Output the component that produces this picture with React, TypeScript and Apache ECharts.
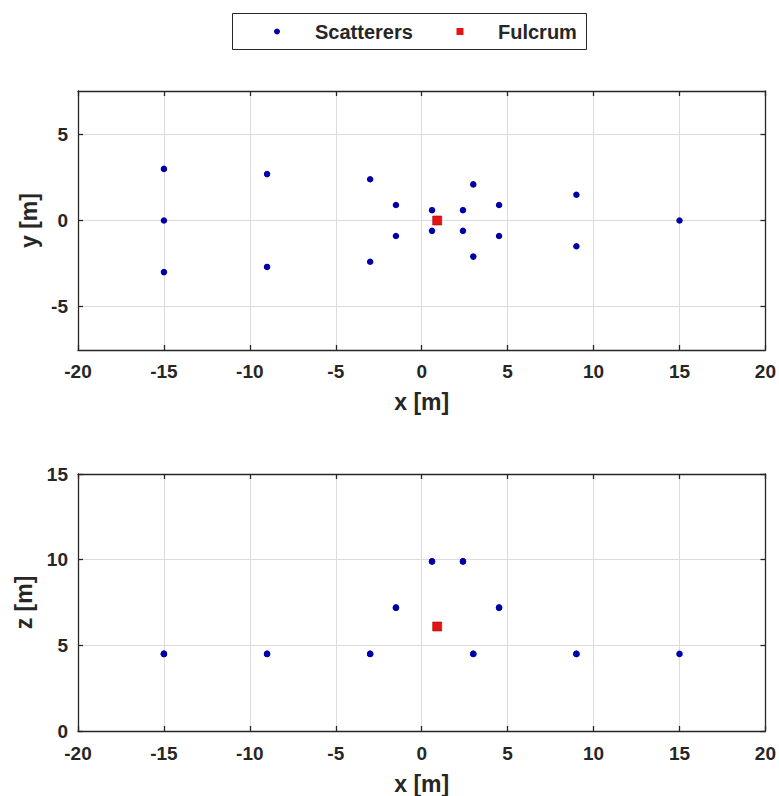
import React, { useEffect, useRef } from "react";
import * as echarts from "echarts";

// Scatterer positions [m]
const scatterX = [-15, -15, -15, -9, -9, -3, -3, -1.5, -1.5, 0.6, 0.6, 2.4, 2.4, 3, 3, 4.5, 4.5, 9, 9, 15];
const scatterY = [3, 0, -3, 2.7, -2.7, 2.4, -2.4, 0.9, -0.9, 0.6, -0.6, 0.6, -0.6, 2.1, -2.1, 0.9, -0.9, 1.5, -1.5, 0];
const scatterZ = [4.5, 4.5, 4.5, 4.5, 4.5, 4.5, 4.5, 7.2, 7.2, 9.9, 9.9, 9.9, 9.9, 4.5, 4.5, 7.2, 7.2, 4.5, 4.5, 4.5];

// Fulcrum position [m]
const fulcrumX = [0.9];
const fulcrumY = [0];
const fulcrumZ = [6.1];

// Axis ticks
const yTicks = [-5, 0, 5];
const zTicks = [0, 5, 10, 15];

// Legend entries
const legendNames = ["Scatterers", "Fulcrum"];

const FONT = "'Liberation Sans', Arial, Helvetica, sans-serif";
const TXT = "#262626";
const AX = "#262626";
const GRIDC = "#dcdcdc";
const BLUE = "#0000a8";
const RED = "#e51414";

export default function App() {
  const ref = useRef<HTMLDivElement>(null);

  useEffect(() => {
    if (!ref.current) return;
    const chart = echarts.init(ref.current, undefined, { renderer: "svg" });

    const xy = scatterX.map((x, i) => [x, scatterY[i]]);
    const xz = scatterX.map((x, i) => [x, scatterZ[i]]);
    const fxy = fulcrumX.map((x, i) => [x, fulcrumY[i]]);
    const fxz = fulcrumX.map((x, i) => [x, fulcrumZ[i]]);

    const tickLabel = { fontFamily: FONT, fontWeight: "bold" as const, fontSize: 19, color: TXT };
    const nameStyle = { fontFamily: FONT, fontWeight: "bold" as const, fontSize: 23, color: TXT };
    const lineSt = { color: AX, width: 1.3 };

    const mainX = (gridIndex: number, gap: number, margin: number) => ({
      type: "value" as const,
      gridIndex,
      min: -20,
      max: 20,
      interval: 5,
      name: "x [m]",
      nameLocation: "middle" as const,
      nameGap: gap,
      nameTextStyle: nameStyle,
      axisLine: { show: true, onZero: false, lineStyle: lineSt },
      axisTick: { show: true, inside: true, length: 5, lineStyle: lineSt },
      axisLabel: { ...tickLabel, margin },
      splitLine: { show: true, lineStyle: { color: GRIDC, width: 1 } },
    });
    const mirrorX = (gridIndex: number) => ({
      type: "value" as const,
      gridIndex,
      position: "top" as const,
      min: -20,
      max: 20,
      interval: 5,
      axisLine: { show: true, onZero: false, lineStyle: lineSt },
      axisTick: { show: true, inside: true, length: 5, lineStyle: lineSt },
      axisLabel: { show: false },
      splitLine: { show: false },
    });

    const legendY = 31.5;
    const legendText = { fontFamily: FONT, fontWeight: "bold", fontSize: 20, fill: TXT };

    const option: any = {
      animation: false,
      backgroundColor: "#ffffff",
      graphic: [
        {
          type: "rect",
          shape: { x: 232.5, y: 13.5, width: 354, height: 36 },
          style: { fill: "#ffffff", stroke: "#262626", lineWidth: 1 },
          z: 10,
        },
        {
          type: "circle",
          shape: { cx: 277, cy: legendY, r: 3 },
          style: { fill: BLUE },
          z: 11,
        },
        {
          type: "text",
          x: 315,
          y: legendY,
          style: { ...legendText, text: legendNames[0], verticalAlign: "middle", align: "left" },
          z: 11,
        },
        {
          type: "rect",
          shape: { x: 456.5, y: legendY - 3.5, width: 7, height: 7 },
          style: { fill: RED },
          z: 11,
        },
        {
          type: "text",
          x: 498,
          y: legendY,
          style: { ...legendText, text: legendNames[1], verticalAlign: "middle", align: "left" },
          z: 11,
        },
      ],
      grid: [
        { left: 78, top: 91, width: 688, height: 259, containLabel: false },
        { left: 78, top: 474, width: 688, height: 258, containLabel: false },
      ],
      xAxis: [mainX(0, 40, 12), mirrorX(0), mainX(1, 41, 13), mirrorX(1)],
      yAxis: [
        {
          type: "value",
          gridIndex: 0,
          min: -7.53,
          max: 7.53,
          name: "y [m]",
          nameLocation: "middle",
          nameGap: 35,
          nameTextStyle: nameStyle,
          axisLine: { show: true, onZero: false, lineStyle: lineSt },
          axisTick: { show: true, inside: true, length: 5, customValues: yTicks, lineStyle: lineSt },
          axisLabel: { ...tickLabel, margin: 10, customValues: yTicks },
          splitLine: { show: true, lineStyle: { color: GRIDC, width: 1 } },
        },
        {
          type: "value",
          gridIndex: 0,
          position: "right",
          min: -7.53,
          max: 7.53,
          axisLine: { show: true, onZero: false, lineStyle: lineSt },
          axisTick: { show: true, inside: true, length: 5, customValues: yTicks, lineStyle: lineSt },
          axisLabel: { show: false, customValues: yTicks },
          splitLine: { show: false },
        },
        {
          type: "value",
          gridIndex: 1,
          min: zTicks[0],
          max: zTicks[zTicks.length - 1],
          interval: 5,
          name: "z [m]",
          nameLocation: "middle",
          nameGap: 35,
          nameTextStyle: nameStyle,
          axisLine: { show: true, onZero: false, lineStyle: lineSt },
          axisTick: { show: true, inside: true, length: 5, lineStyle: lineSt },
          axisLabel: { ...tickLabel, margin: 10 },
          splitLine: { show: true, lineStyle: { color: GRIDC, width: 1 } },
        },
        {
          type: "value",
          gridIndex: 1,
          position: "right",
          min: zTicks[0],
          max: zTicks[zTicks.length - 1],
          interval: 5,
          axisLine: { show: true, onZero: false, lineStyle: lineSt },
          axisTick: { show: true, inside: true, length: 5, lineStyle: lineSt },
          axisLabel: { show: false },
          splitLine: { show: false },
        },
      ],
      series: [
        {
          name: legendNames[0],
          type: "scatter",
          xAxisIndex: 0,
          yAxisIndex: 0,
          symbol: "circle",
          symbolSize: 6.5,
          itemStyle: { color: BLUE, opacity: 1 },
          data: xy,
          z: 3,
        },
        {
          name: legendNames[1],
          type: "scatter",
          xAxisIndex: 0,
          yAxisIndex: 0,
          symbol: "rect",
          symbolSize: 9,
          itemStyle: { color: RED, opacity: 1, borderColor: "#b00000", borderWidth: 0.6 },
          data: fxy,
          z: 4,
        },
        {
          name: legendNames[0],
          type: "scatter",
          xAxisIndex: 2,
          yAxisIndex: 2,
          symbol: "circle",
          symbolSize: 6.5,
          itemStyle: { color: BLUE, opacity: 1 },
          data: xz,
          z: 3,
        },
        {
          name: legendNames[1],
          type: "scatter",
          xAxisIndex: 2,
          yAxisIndex: 2,
          symbol: "rect",
          symbolSize: 9,
          itemStyle: { color: RED, opacity: 1, borderColor: "#b00000", borderWidth: 0.6 },
          data: fxz,
          z: 4,
        },
      ],
    };

    chart.setOption(option);
    return () => chart.dispose();
  }, []);

  return (
    <div
      ref={ref}
      style={{ position: "fixed", left: 0, top: 0, width: 779, height: 796, background: "#fff" }}
    />
  );
}
